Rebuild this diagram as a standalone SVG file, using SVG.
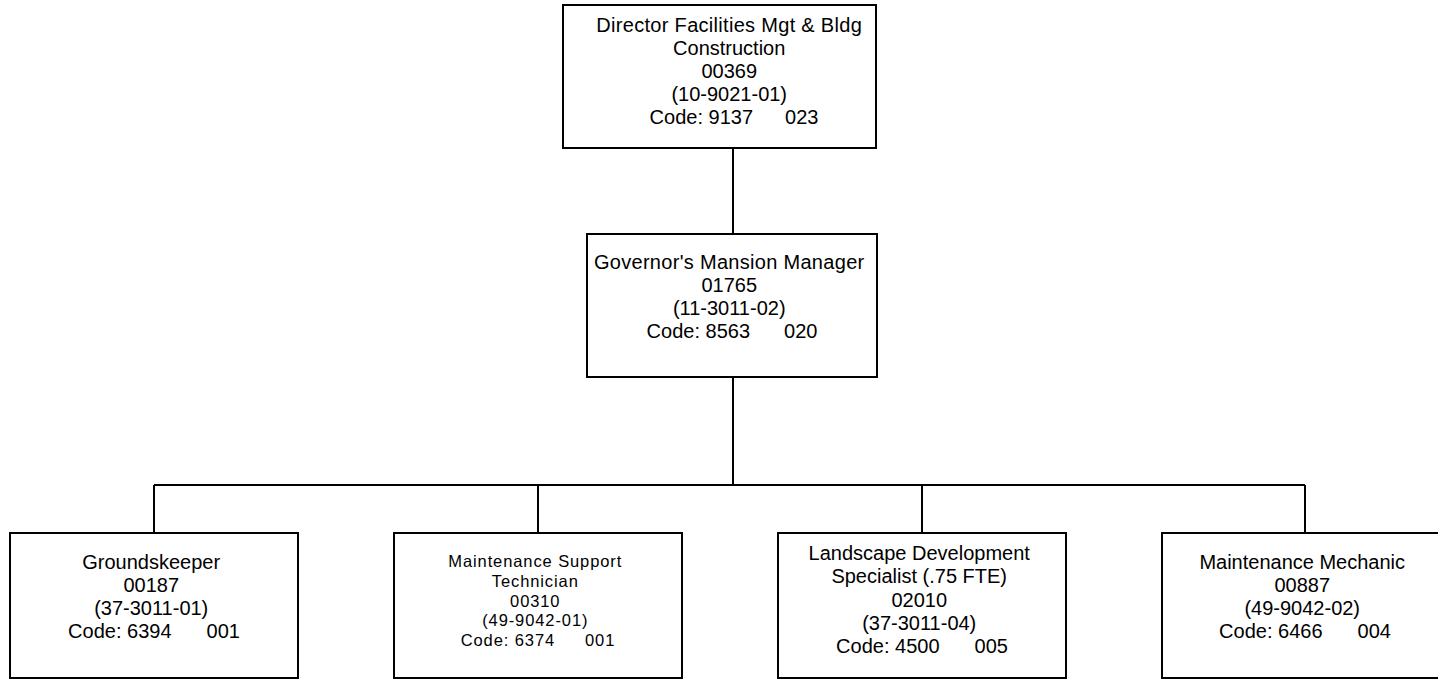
<svg xmlns="http://www.w3.org/2000/svg" width="1438" height="679" viewBox="0 0 1438 679">
  <style>
    .box { fill: #ffffff; stroke: #000000; stroke-width: 2; }
    .wire { fill: none; stroke: #000000; stroke-width: 2; }
    .lbl { font-family: "Liberation Sans", Arial, sans-serif; font-size: 20px; fill: #000000; text-anchor: middle; }
    .sm { font-size: 16.5px; letter-spacing: 0.9px; }
    .wide { letter-spacing: 0.3px; }
  </style>
  <rect x="0" y="0" width="1438" height="679" fill="#ffffff"/>

  <!-- reporting lines -->
  <g id="connectors">
    <path class="wire" d="M733 148 V234"/>
    <path class="wire" d="M733 377 V485"/>
    <path class="wire" d="M154 485 H1305"/>
    <path class="wire" d="M154 485 V533"/>
    <path class="wire" d="M538 485 V533"/>
    <path class="wire" d="M922 485 V533"/>
    <path class="wire" d="M1305 485 V533"/>
  </g>

  <g id="director">
    <rect class="box" x="563" y="5" width="313" height="143"/>
    <text class="lbl">
      <tspan x="732" y="32" class="wide">Director Facilities Mgt &amp; Bldg</tspan>
      <tspan x="732" y="55">Construction</tspan>
      <tspan x="732" y="78">00369</tspan>
      <tspan x="732" y="101">(10-9021-01)</tspan>
      <tspan x="734" y="124">Code: 9137</tspan><tspan dx="32">023</tspan>
    </text>
  </g>

  <g id="mansion-manager">
    <rect class="box" x="587" y="234" width="290" height="143"/>
    <text class="lbl">
      <tspan x="732" y="269" class="wide">Governor's Mansion Manager</tspan>
      <tspan x="732" y="292">01765</tspan>
      <tspan x="732" y="315">(11-3011-02)</tspan>
      <tspan x="732" y="338">Code: 8563</tspan><tspan dx="34">020</tspan>
    </text>
  </g>

  <g id="groundskeeper">
    <rect class="box" x="10" y="533" width="288" height="145"/>
    <text class="lbl">
      <tspan x="154" y="569">Groundskeeper</tspan>
      <tspan x="154" y="592">00187</tspan>
      <tspan x="154" y="615">(37-3011-01)</tspan>
      <tspan x="154" y="638">Code: 6394</tspan><tspan dx="35">001</tspan>
    </text>
  </g>

  <g id="maintenance-support">
    <rect class="box" x="394" y="533" width="288" height="145"/>
    <text class="lbl sm">
      <tspan x="538" y="567">Maintenance Support</tspan>
      <tspan x="538" y="587">Technician</tspan>
      <tspan x="538" y="607">00310</tspan>
      <tspan x="538" y="626">(49-9042-01)</tspan>
      <tspan x="538" y="646">Code: 6374</tspan><tspan dx="30">001</tspan>
    </text>
  </g>

  <g id="landscape-specialist">
    <rect class="box" x="778" y="533" width="288" height="145"/>
    <text class="lbl">
      <tspan x="922" y="560">Landscape Development</tspan>
      <tspan x="922" y="583">Specialist (.75 FTE)</tspan>
      <tspan x="922" y="607">02010</tspan>
      <tspan x="922" y="630">(37-3011-04)</tspan>
      <tspan x="922" y="653">Code: 4500</tspan><tspan dx="35">005</tspan>
    </text>
  </g>

  <g id="maintenance-mechanic">
    <rect class="box" x="1162" y="533" width="288" height="145"/>
    <text class="lbl">
      <tspan x="1305" y="569">Maintenance Mechanic</tspan>
      <tspan x="1305" y="592">00887</tspan>
      <tspan x="1305" y="615">(49-9042-02)</tspan>
      <tspan x="1305" y="638">Code: 6466</tspan><tspan dx="35">004</tspan>
    </text>
  </g>
</svg>
